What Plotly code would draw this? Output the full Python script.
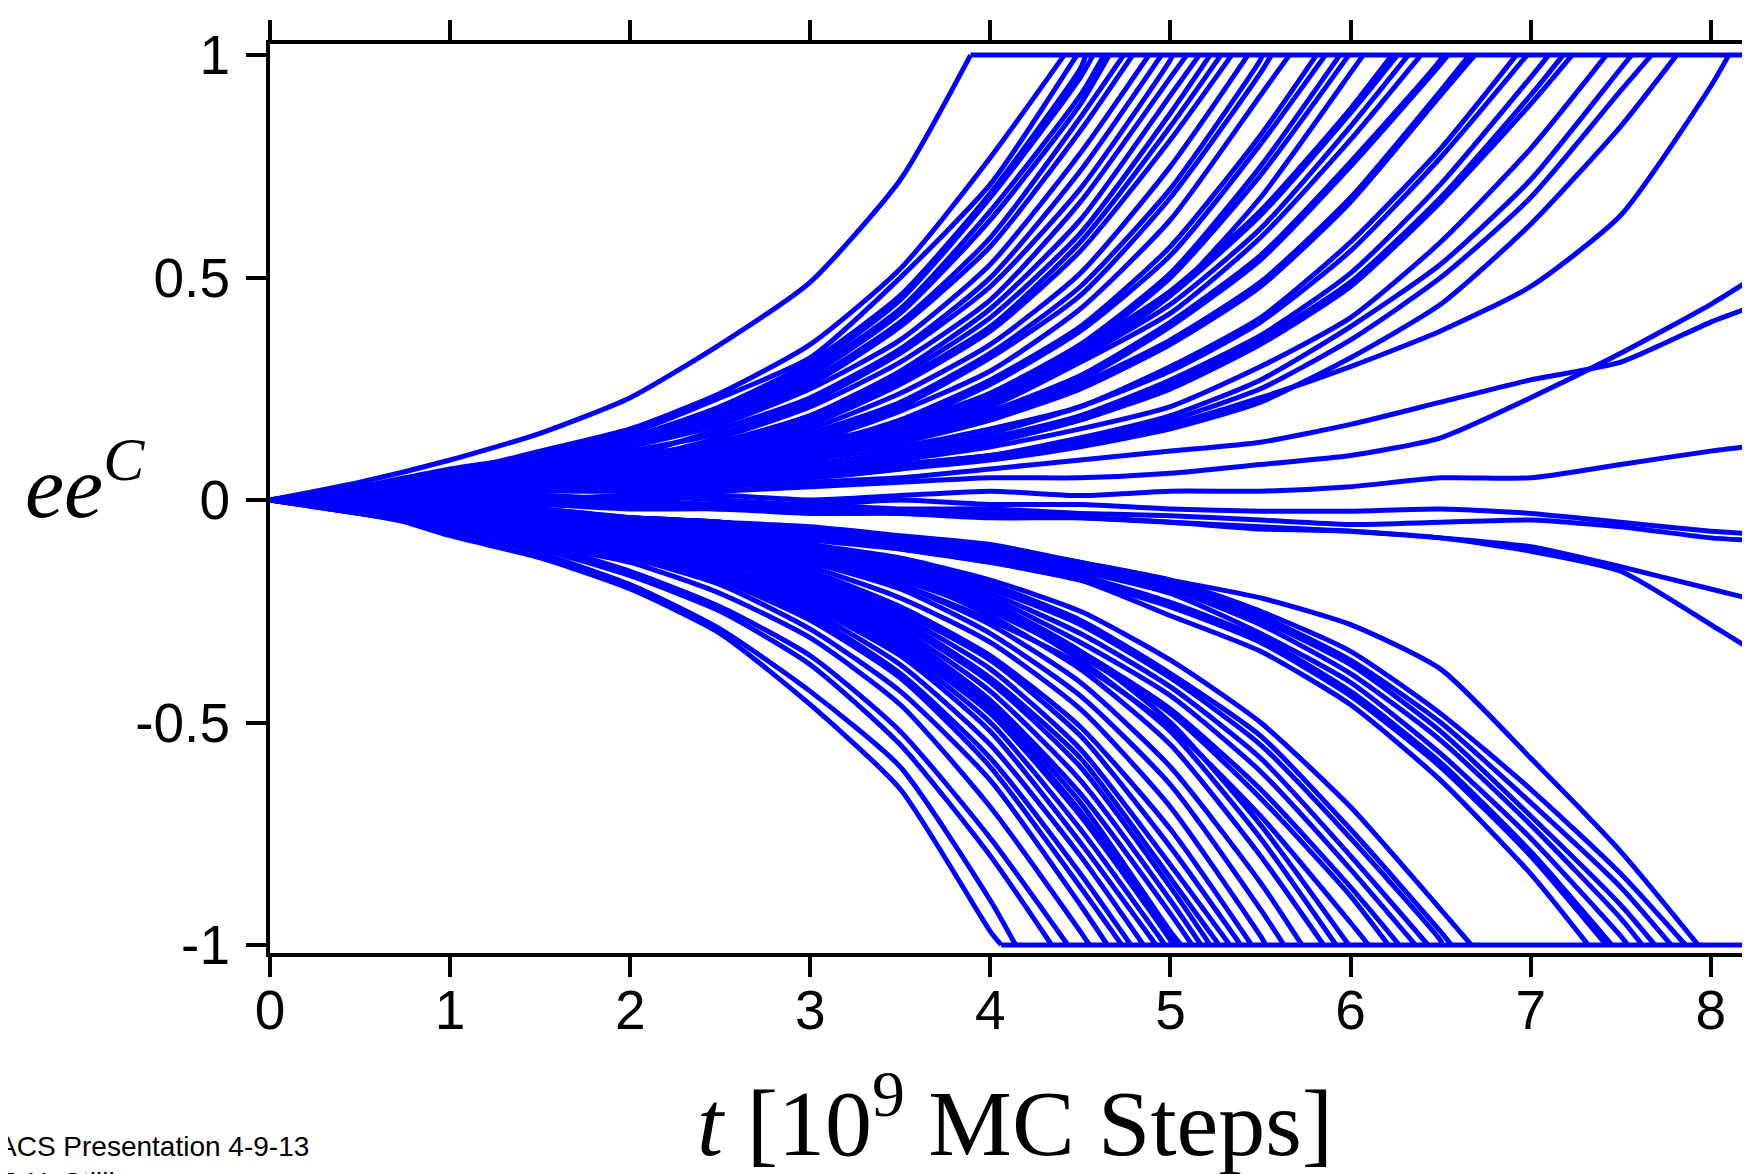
import plotly.graph_objects as go

# ---------------- data ----------------
T_GRID = [0, 0.5, 1, 1.5, 2, 2.5, 3, 3.5, 4, 4.5, 5, 5.5, 6, 6.5, 7, 7.5, 8, 8.2]
T_END = 8.2

X_TICKS = [0, 1, 2, 3, 4, 5, 6, 7, 8]
X_TICK_TEXT = ["0", "1", "2", "3", "4", "5", "6", "7", "8"]
Y_TICKS = [-1, -0.5, 0, 0.5, 1]
Y_TICK_TEXT = ["-1", "-0.5", "0", "0.5", "1"]

# trajectories that reach ee^C = +1 : time of arrival and values on T_GRID before it
UP_HIT = [3.89, 4.41, 4.48, 4.53, 4.57, 4.63, 4.66, 4.74, 4.79, 4.88, 4.95,
          5.01, 5.09, 5.16, 5.22, 5.28, 5.34, 5.43, 5.51, 5.56, 5.66, 5.81,
          5.86, 5.94, 5.99, 6.07, 6.23, 6.26, 6.32, 6.39, 6.51, 6.54, 6.66,
          6.69, 6.92, 6.98, 7.10, 7.18, 7.23, 7.42, 7.56, 7.67, 7.81, 8.10]
UP_VALS = [
    [0, 0.04, 0.09, 0.15, 0.23, 0.35, 0.49, 0.72],
    [0, 0.02, 0.06, 0.11, 0.16, 0.24, 0.35, 0.52, 0.77],
    [0, 0.01, 0.05, 0.10, 0.15, 0.23, 0.32, 0.50, 0.71],
    [0, 0.03, 0.06, 0.09, 0.14, 0.21, 0.31, 0.46, 0.69, 0.97],
    [0, 0.02, 0.04, 0.08, 0.14, 0.20, 0.30, 0.45, 0.68, 0.95],
    [0, 0.01, 0.05, 0.09, 0.13, 0.19, 0.29, 0.43, 0.65, 0.91],
    [0, 0.03, 0.07, 0.10, 0.13, 0.18, 0.28, 0.42, 0.63, 0.89],
    [0, 0.02, 0.05, 0.09, 0.13, 0.19, 0.27, 0.40, 0.59, 0.86],
    [0, 0.00, 0.03, 0.07, 0.12, 0.18, 0.26, 0.39, 0.57, 0.83],
    [0, 0.02, 0.04, 0.08, 0.12, 0.17, 0.25, 0.36, 0.53, 0.78],
    [0, 0.00, 0.03, 0.06, 0.10, 0.16, 0.23, 0.34, 0.50, 0.74],
    [0, 0.03, 0.05, 0.07, 0.11, 0.15, 0.22, 0.33, 0.48, 0.70, 0.99],
    [0, 0.01, 0.02, 0.05, 0.09, 0.14, 0.21, 0.31, 0.45, 0.67, 0.95],
    [0, 0.02, 0.04, 0.06, 0.09, 0.13, 0.19, 0.29, 0.43, 0.63, 0.91],
    [0, -0.01, 0.02, 0.05, 0.09, 0.13, 0.19, 0.28, 0.41, 0.60, 0.87],
    [0, 0.02, 0.06, 0.08, 0.10, 0.13, 0.18, 0.27, 0.39, 0.58, 0.84],
    [0, 0.01, 0.03, 0.05, 0.08, 0.12, 0.17, 0.26, 0.38, 0.56, 0.81],
    [0, 0.02, 0.02, 0.04, 0.07, 0.11, 0.16, 0.24, 0.35, 0.51, 0.75],
    [0, 0.03, 0.04, 0.05, 0.07, 0.10, 0.15, 0.22, 0.33, 0.48, 0.70, 0.99],
    [0, -0.01, 0.01, 0.04, 0.07, 0.10, 0.14, 0.21, 0.32, 0.46, 0.68, 0.96],
    [0, 0.01, 0.03, 0.04, 0.06, 0.09, 0.13, 0.20, 0.29, 0.43, 0.63, 0.91],
    [0, 0.02, 0.02, 0.04, 0.06, 0.08, 0.12, 0.18, 0.27, 0.39, 0.57, 0.82],
    [0, 0.00, 0.03, 0.05, 0.05, 0.08, 0.12, 0.17, 0.26, 0.38, 0.55, 0.80],
    [0, 0.01, 0.02, 0.03, 0.05, 0.08, 0.11, 0.16, 0.24, 0.35, 0.51, 0.75],
    [0, 0.02, 0.05, 0.06, 0.06, 0.08, 0.11, 0.16, 0.23, 0.34, 0.50, 0.73],
    [0, -0.01, 0.00, 0.02, 0.04, 0.07, 0.10, 0.14, 0.21, 0.32, 0.46, 0.68, 0.96],
    [0, 0.01, 0.03, 0.05, 0.07, 0.10, 0.13, 0.17, 0.24, 0.34, 0.47, 0.65, 0.88],
    [0, 0.03, 0.04, 0.04, 0.06, 0.09, 0.12, 0.17, 0.23, 0.33, 0.46, 0.64, 0.87],
    [0, 0.00, 0.02, 0.04, 0.07, 0.09, 0.12, 0.16, 0.22, 0.32, 0.44, 0.61, 0.84],
    [0, 0.02, 0.03, 0.04, 0.06, 0.09, 0.12, 0.16, 0.21, 0.31, 0.42, 0.59, 0.81],
    [0, -0.01, 0.01, 0.03, 0.05, 0.08, 0.11, 0.15, 0.20, 0.28, 0.40, 0.55, 0.76, 0.99],
    [0, 0.02, 0.04, 0.05, 0.06, 0.07, 0.10, 0.14, 0.19, 0.27, 0.39, 0.54, 0.75, 0.98],
    [0, 0.01, 0.02, 0.03, 0.05, 0.07, 0.10, 0.13, 0.18, 0.26, 0.36, 0.49, 0.68, 0.92],
    [0, 0.00, 0.01, 0.02, 0.04, 0.07, 0.09, 0.13, 0.18, 0.25, 0.35, 0.48, 0.67, 0.91],
    [0, 0.02, 0.02, 0.03, 0.04, 0.06, 0.09, 0.12, 0.16, 0.21, 0.30, 0.41, 0.58, 0.79],
    [0, -0.01, 0.00, 0.02, 0.04, 0.06, 0.08, 0.11, 0.15, 0.21, 0.29, 0.40, 0.56, 0.77],
    [0, 0.01, 0.01, 0.03, 0.04, 0.06, 0.08, 0.10, 0.14, 0.19, 0.27, 0.37, 0.51, 0.71, 0.95],
    [0, 0.02, 0.03, 0.03, 0.05, 0.05, 0.07, 0.10, 0.13, 0.18, 0.26, 0.36, 0.49, 0.68, 0.91],
    [0, 0.00, 0.02, 0.04, 0.04, 0.06, 0.07, 0.10, 0.13, 0.18, 0.25, 0.35, 0.48, 0.67, 0.89],
    [0, 0.01, 0.01, 0.02, 0.04, 0.05, 0.06, 0.09, 0.12, 0.16, 0.21, 0.30, 0.41, 0.58, 0.79],
    [0, 0.02, 0.02, 0.02, 0.03, 0.04, 0.06, 0.08, 0.10, 0.14, 0.19, 0.27, 0.39, 0.53, 0.72, 0.97],
    [0, 0.00, 0.01, 0.03, 0.03, 0.04, 0.05, 0.07, 0.10, 0.13, 0.18, 0.25, 0.36, 0.50, 0.68, 0.92],
    [0, -0.01, 0.00, 0.02, 0.03, 0.04, 0.05, 0.07, 0.09, 0.12, 0.16, 0.22, 0.32, 0.44, 0.62, 0.84],
    [0, 0.00, 0.01, 0.02, 0.03, 0.04, 0.06, 0.08, 0.10, 0.13, 0.17, 0.23, 0.30, 0.38, 0.48, 0.64, 0.93],
]

# trajectories that reach ee^C = -1
DOWN_HIT = [4.06, 4.14, 4.34, 4.43, 4.55, 4.65, 4.73, 4.78, 4.85, 4.92, 4.97,
            5.01, 5.03, 5.06, 5.12, 5.17, 5.22, 5.27, 5.33, 5.39, 5.45, 5.53,
            5.63, 5.73, 5.85, 5.92, 5.99, 6.10, 6.21, 6.27, 6.36, 6.43, 6.51,
            6.56, 6.67, 7.32, 7.42, 7.45, 7.54, 7.62, 7.69, 7.78, 7.86, 7.93]
DOWN_VALS = [
    [0, -0.02, -0.08, -0.13, -0.20, -0.30, -0.46, -0.65, -0.97],
    [0, -0.03, -0.07, -0.12, -0.19, -0.29, -0.43, -0.60, -0.90],
    [0, -0.03, -0.06, -0.11, -0.17, -0.25, -0.37, -0.55, -0.80],
    [0, -0.01, -0.05, -0.10, -0.16, -0.24, -0.35, -0.52, -0.76],
    [0, -0.02, -0.06, -0.10, -0.14, -0.21, -0.31, -0.46, -0.69, -0.97],
    [0, -0.01, -0.05, -0.09, -0.13, -0.19, -0.29, -0.43, -0.63, -0.91],
    [0, -0.03, -0.06, -0.08, -0.12, -0.18, -0.27, -0.40, -0.60, -0.87],
    [0, -0.02, -0.04, -0.07, -0.12, -0.18, -0.26, -0.39, -0.58, -0.84],
    [0, 0.00, -0.04, -0.08, -0.12, -0.17, -0.25, -0.37, -0.55, -0.80],
    [0, -0.01, -0.03, -0.07, -0.11, -0.16, -0.24, -0.35, -0.52, -0.77],
    [0, -0.02, -0.05, -0.07, -0.10, -0.16, -0.23, -0.34, -0.50, -0.74],
    [0, -0.01, -0.04, -0.07, -0.10, -0.15, -0.22, -0.33, -0.48, -0.71, -0.99],
    [0, -0.03, -0.05, -0.08, -0.11, -0.15, -0.22, -0.32, -0.47, -0.70, -0.98],
    [0, 0.00, -0.03, -0.06, -0.10, -0.15, -0.21, -0.31, -0.46, -0.68, -0.97],
    [0, -0.02, -0.04, -0.07, -0.10, -0.14, -0.20, -0.30, -0.45, -0.66, -0.93],
    [0, -0.01, -0.02, -0.05, -0.09, -0.13, -0.19, -0.29, -0.43, -0.63, -0.90],
    [0, -0.02, -0.05, -0.07, -0.09, -0.13, -0.19, -0.28, -0.41, -0.60, -0.87],
    [0, 0.01, -0.02, -0.05, -0.08, -0.12, -0.18, -0.27, -0.40, -0.58, -0.85],
    [0, -0.01, -0.03, -0.06, -0.08, -0.12, -0.17, -0.26, -0.38, -0.56, -0.82],
    [0, -0.02, -0.04, -0.05, -0.07, -0.11, -0.16, -0.25, -0.36, -0.53, -0.78],
    [0, 0.00, -0.02, -0.04, -0.07, -0.11, -0.16, -0.24, -0.35, -0.51, -0.74],
    [0, -0.01, -0.03, -0.05, -0.07, -0.10, -0.15, -0.22, -0.32, -0.47, -0.69, -0.98],
    [0, -0.02, -0.03, -0.04, -0.06, -0.09, -0.14, -0.20, -0.30, -0.44, -0.64, -0.92],
    [0, 0.00, -0.01, -0.03, -0.06, -0.09, -0.13, -0.19, -0.28, -0.41, -0.60, -0.86],
    [0, -0.01, -0.02, -0.04, -0.05, -0.08, -0.12, -0.17, -0.26, -0.38, -0.55, -0.80],
    [0, -0.01, -0.03, -0.03, -0.05, -0.08, -0.11, -0.16, -0.24, -0.36, -0.52, -0.76],
    [0, 0.01, 0.00, -0.02, -0.04, -0.07, -0.11, -0.16, -0.23, -0.34, -0.50, -0.73],
    [0, -0.01, -0.03, -0.05, -0.08, -0.10, -0.14, -0.19, -0.27, -0.37, -0.51, -0.71, -0.95],
    [0, -0.02, -0.03, -0.04, -0.07, -0.10, -0.13, -0.18, -0.25, -0.35, -0.48, -0.67, -0.89],
    [0, 0.00, -0.02, -0.04, -0.06, -0.09, -0.12, -0.17, -0.24, -0.34, -0.47, -0.65, -0.87],
    [0, -0.01, -0.02, -0.03, -0.06, -0.08, -0.12, -0.16, -0.22, -0.32, -0.44, -0.61, -0.83],
    [0, -0.02, -0.04, -0.05, -0.06, -0.08, -0.11, -0.15, -0.21, -0.30, -0.42, -0.58, -0.80],
    [0, 0.00, -0.01, -0.03, -0.05, -0.08, -0.11, -0.15, -0.20, -0.28, -0.40, -0.55, -0.76, -0.99],
    [0, -0.01, -0.02, -0.04, -0.05, -0.07, -0.10, -0.14, -0.19, -0.27, -0.39, -0.53, -0.74, -0.97],
    [0, -0.01, -0.03, -0.03, -0.04, -0.07, -0.10, -0.13, -0.18, -0.25, -0.36, -0.50, -0.69, -0.92],
    [0, -0.01, -0.02, -0.04, -0.05, -0.06, -0.08, -0.11, -0.14, -0.18, -0.26, -0.34, -0.46, -0.63, -0.84],
    [0, 0.00, -0.01, -0.03, -0.05, -0.07, -0.09, -0.11, -0.14, -0.18, -0.24, -0.32, -0.44, -0.60, -0.80],
    [0, -0.02, -0.03, -0.03, -0.04, -0.06, -0.08, -0.10, -0.13, -0.17, -0.23, -0.31, -0.43, -0.59, -0.79],
    [0, -0.01, -0.02, -0.03, -0.05, -0.06, -0.08, -0.10, -0.12, -0.16, -0.21, -0.30, -0.41, -0.57, -0.76, -0.98],
    [0, 0.00, -0.02, -0.04, -0.04, -0.06, -0.07, -0.09, -0.12, -0.15, -0.20, -0.28, -0.39, -0.54, -0.73, -0.94],
    [0, -0.01, -0.01, -0.02, -0.04, -0.05, -0.07, -0.09, -0.11, -0.15, -0.20, -0.27, -0.37, -0.52, -0.71, -0.91],
    [0, -0.02, -0.03, -0.03, -0.04, -0.05, -0.07, -0.09, -0.11, -0.14, -0.19, -0.26, -0.36, -0.50, -0.68, -0.87],
    [0, 0.00, -0.01, -0.03, -0.04, -0.05, -0.06, -0.08, -0.10, -0.14, -0.18, -0.25, -0.34, -0.48, -0.65, -0.84],
    [0, -0.01, -0.02, -0.03, -0.04, -0.05, -0.07, -0.09, -0.11, -0.14, -0.18, -0.22, -0.28, -0.38, -0.58, -0.79],
]

# trajectories still undecided at the end of the run (values on the full T_GRID)
FREE_VALS = [
    [0, 0.01, 0.01, 0.02, 0.02, 0.03, 0.04, 0.05, 0.07, 0.09, 0.11, 0.13, 0.17, 0.22, 0.27, 0.31, 0.40, 0.43],
    [0, 0.00, 0.01, 0.00, 0.01, 0.02, 0.03, 0.04, 0.05, 0.05, 0.06, 0.08, 0.10, 0.14, 0.23, 0.33, 0.44, 0.49],
    [0, 0.00, 0.00, -0.01, 0.00, 0.01, 0.00, 0.01, 0.02, 0.01, 0.02, 0.02, 0.03, 0.05, 0.05, 0.08, 0.11, 0.12],
    [0, 0.00, -0.01, 0.00, 0.01, 0.00, -0.01, 0.00, -0.01, -0.01, -0.02, -0.025, -0.025, -0.02, -0.03, -0.05, -0.07, -0.075],
    [0, -0.01, 0.00, 0.01, 0.00, -0.01, -0.01, -0.02, -0.02, -0.03, -0.035, -0.045, -0.055, -0.05, -0.045, -0.06, -0.085, -0.09],
    [0, 0.00, 0.00, -0.01, -0.01, -0.02, -0.02, -0.03, -0.03, -0.04, -0.05, -0.06, -0.07, -0.085, -0.105, -0.15, -0.20, -0.22],
    [0, 0.00, -0.01, -0.01, -0.02, -0.02, -0.03, -0.03, -0.04, -0.04, -0.05, -0.065, -0.07, -0.085, -0.115, -0.16, -0.28, -0.33],
]

LINE_COLOR = "#0000FF"
LINE_W = 5

# ---------------- figure ----------------
fig = go.Figure()


def add_line(xs, ys):
    fig.add_trace(go.Scatter(x=xs, y=ys, mode="lines",
                             line=dict(color=LINE_COLOR, width=LINE_W,
                                       shape="spline", smoothing=0.6),
                             showlegend=False, hoverinfo="skip"))


for hit, vals in zip(UP_HIT, UP_VALS):
    add_line(T_GRID[:len(vals)] + [hit], vals + [1])
for hit, vals in zip(DOWN_HIT, DOWN_VALS):
    add_line(T_GRID[:len(vals)] + [hit], vals + [-1])
for vals in FREE_VALS:
    add_line(T_GRID[:len(vals)], vals)

# absorbed states at +1 and -1
add_line([min(UP_HIT), T_END], [1, 1])
add_line([min(DOWN_HIT), T_END], [-1, -1])

tick_font = dict(family="Liberation Sans, Arial, sans-serif", size=55, color="black")
axis_common = dict(ticks="outside", ticklen=20, tickwidth=4, tickcolor="black",
                   showline=True, linewidth=4, linecolor="black", mirror="ticks",
                   showgrid=False, zeroline=False, tickfont=tick_font, automargin=False)

fig.update_layout(
    width=1750, height=1174,
    margin=dict(l=262, r=13, t=36, b=229),
    paper_bgcolor="white", plot_bgcolor="white",
    showlegend=False,
    xaxis=dict(range=[0, 8.19], tickvals=X_TICKS, ticktext=X_TICK_TEXT,
               ticklabelstandoff=-14, **axis_common),
    yaxis=dict(range=[-1.018, 1.025], tickvals=Y_TICKS, ticktext=Y_TICK_TEXT,
               ticklabelstandoff=5, **axis_common),
)

serif = "Liberation Serif, Times New Roman, serif"
fig.add_annotation(text="<i>ee</i><sup><i>C</i></sup>", xref="paper", yref="paper",
                   x=-0.1254, y=0.520, xanchor="center", yanchor="middle",
                   showarrow=False, font=dict(family=serif, size=88, color="black"))
fig.add_annotation(text="<i>t</i> [10<sup>9</sup> MC Steps]", xref="paper", yref="paper",
                   x=0.505, y=-0.1793, xanchor="center", yanchor="middle",
                   showarrow=False, font=dict(family=serif, size=94, color="black"))
fig.add_annotation(text="ACS Presentation 4-9-13<br>F. H. Stillinger", xref="paper", yref="paper",
                   x=-0.1858, y=-0.1936, xanchor="left", yanchor="top", align="left",
                   showarrow=False, font=dict(family="Liberation Sans, Arial, sans-serif",
                                              size=28, color="black"))

fig.write_html("out.html")
